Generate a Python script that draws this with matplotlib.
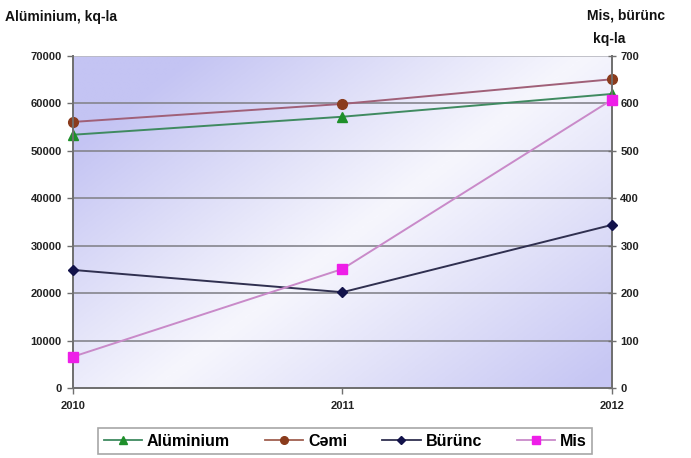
import numpy as np
import matplotlib.pyplot as plt
from matplotlib.colors import LinearSegmentedColormap
from matplotlib.lines import Line2D

plt.rcParams['font.family'] = ['Liberation Sans', 'DejaVu Sans']
plt.rcParams['font.weight'] = 'bold'

years = ['2010', '2011', '2012']
aluminium = [53400, 57200, 62000]   # left axis, kq
cemi = [56100, 59900, 65100]        # left axis, kq
buruenc = [249, 202, 344]           # right axis, kq
mis = [66, 251, 608]                # right axis, kq

left_ticks = [0, 10000, 20000, 30000, 40000, 50000, 60000, 70000]
right_ticks = [0, 100, 200, 300, 400, 500, 600, 700]

fig = plt.figure(figsize=(6.91, 4.58), dpi=100)
ax = fig.add_axes([0.1056, 0.1528, 0.7801, 0.7249])
ax2 = ax.twinx()

x = np.arange(len(years))

# plot-area gradient: lavender toward top-left and bottom-right corners
gx, gy = np.meshgrid(np.linspace(0, 1, 300), np.linspace(0, 1, 300))
d = gx + 0.8 * gy - 0.95  # gy grows downward in image coordinates
val = np.clip(np.abs(d) * 1.25, 0, 1) ** 1.05
val = np.where(d < 0, np.clip(val * 1.1, 0, 1), val * 0.95)
cmap = LinearSegmentedColormap.from_list('bg', ['#f6f6fd', '#c4c4f3'])
ax.imshow(val, cmap=cmap, extent=[0, 2, 0, 70000], aspect='auto',
          origin='upper', zorder=0, interpolation='bilinear')

ax.set_xlim(0, 2)
ax.set_ylim(0, 70000)
ax2.set_ylim(0, 700)
ax2.patch.set_visible(False)

for v in left_ticks[1:-1]:
    ax.axhline(v, color='#85858d', lw=1.2, zorder=1)
ax.axhline(70000, color='#b8b8c0', lw=1.2, zorder=1)

ax.plot(x, cemi, color='#a06078', lw=1.4, marker='o', ms=7,
        mfc='#8a3b1c', mec='#8a3b1c', zorder=3, clip_on=False)
ax.plot(x, aluminium, color='#3f8a60', lw=1.4, marker='^', ms=7,
        mfc='#1e8f2a', mec='#1e8f2a', zorder=3, clip_on=False)
ax2.plot(x, buruenc, color='#303050', lw=1.4, marker='D', ms=5.5,
         mfc='#12124a', mec='#12124a', zorder=3, clip_on=False)
ax2.plot(x, mis, color='#c98ac9', lw=1.4, marker='s', ms=7,
         mfc='#ee1ee8', mec='#ee1ee8', zorder=3, clip_on=False)

ax.set_xticks(x)
ax.set_xticklabels(years, fontsize=8, fontweight='bold', color='#222222')
ax.set_yticks(left_ticks)
ax.set_yticklabels([str(t) for t in left_ticks], fontsize=8,
                   fontweight='bold', color='#222222')
ax2.set_yticks(right_ticks)
ax2.set_yticklabels([str(t) for t in right_ticks], fontsize=8,
                    fontweight='bold', color='#222222')

ax.tick_params(axis='y', length=4, width=1, color='#707070', pad=4)
ax.tick_params(axis='x', length=4, width=1, color='#707070', pad=5)
ax2.tick_params(axis='y', length=6, width=1, color='#707070',
                direction='inout', pad=3)

for a in (ax, ax2):
    a.spines['top'].set_visible(False)
    for s in ('left', 'right', 'bottom'):
        a.spines[s].set_color('#707070')
        a.spines[s].set_linewidth(1.3)

fig.text(0.007, 0.962, 'Alüminium, kq-la', fontsize=10, fontweight='bold',
         ha='left', va='center', color='#111111')
fig.text(0.850, 0.967, 'Mis, bürünc', fontsize=10, fontweight='bold',
         ha='left', va='center', color='#111111')
fig.text(0.858, 0.915, 'kq-la', fontsize=10, fontweight='bold',
         ha='left', va='center', color='#111111')

handles = [
    Line2D([], [], color='#3f8a60', marker='^', mfc='#1e8f2a', mec='#1e8f2a', ms=5.5, lw=1.3),
    Line2D([], [], color='#a06050', marker='o', mfc='#8a3b1c', mec='#8a3b1c', ms=5.5, lw=1.3),
    Line2D([], [], color='#303050', marker='D', mfc='#12124a', mec='#12124a', ms=4.5, lw=1.3),
    Line2D([], [], color='#c98ac9', marker='s', mfc='#ee1ee8', mec='#ee1ee8', ms=5.5, lw=1.3),
]
leg = fig.legend(handles, ['Alüminium', 'Cəmi', 'Bürünc', 'Mis'],
                 loc='center', bbox_to_anchor=(0.4995, 0.037), ncol=4,
                 frameon=True, fancybox=False,
                 prop={'weight': 'bold', 'size': 11.5}, handlelength=2.4,
                 handletextpad=0.3, columnspacing=2.2, borderpad=0.35)
leg.get_frame().set_edgecolor('#909090')
leg.get_frame().set_linewidth(1.2)

fig.savefig('out.png', dpi=100)
